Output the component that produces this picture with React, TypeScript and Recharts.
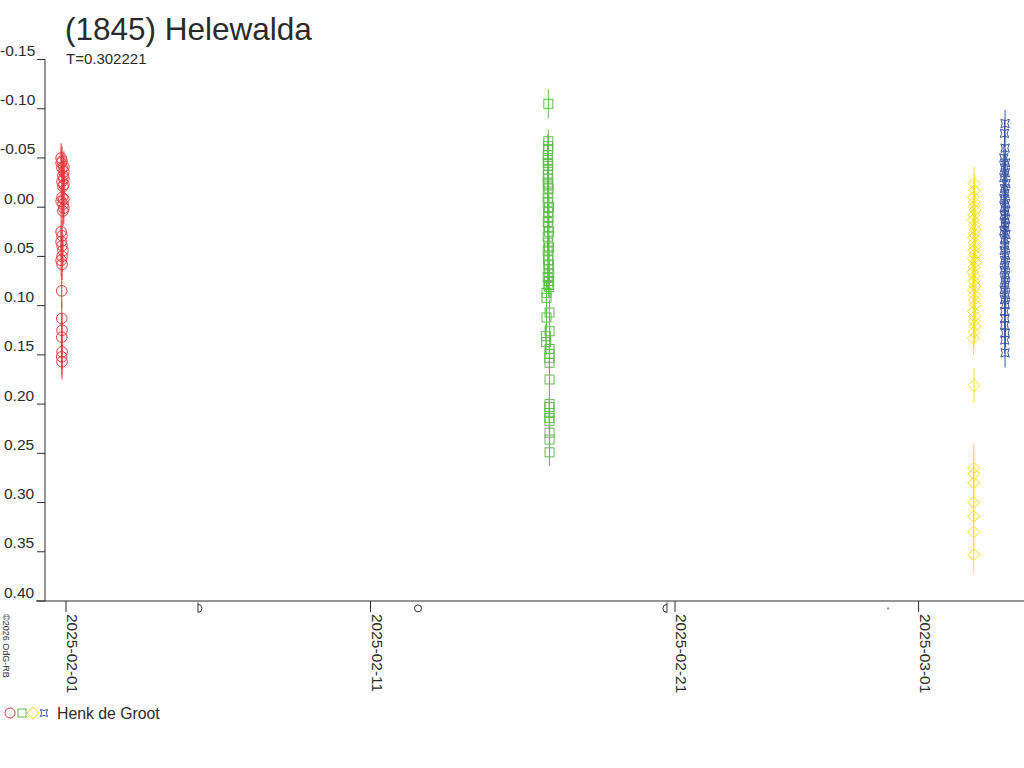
import React from "react";
import {
  ScatterChart,
  Scatter,
  XAxis,
  YAxis,
  ErrorBar,
  ReferenceLine,
  ReferenceDot,
} from "recharts";

// days since 2025-02-01 00:00 UT, relative magnitude, error
const redObs = [
  [-0.16, -0.05, 0.015], [-0.13, -0.047, 0.015], [-0.16, -0.045, 0.015],
  [-0.07, -0.041, 0.016], [-0.13, -0.04, 0.015], [-0.07, -0.036, 0.016],
  [-0.1, -0.032, 0.015], [-0.07, -0.029, 0.016], [-0.13, -0.026, 0.015],
  [-0.07, -0.023, 0.016], [-0.1, -0.021, 0.015], [-0.13, -0.01, 0.015],
  [-0.07, -0.008, 0.016], [-0.16, -0.006, 0.015], [-0.1, -0.003, 0.015],
  [-0.07, 0.001, 0.016], [-0.1, 0.004, 0.015], [-0.16, 0.025, 0.016],
  [-0.13, 0.029, 0.016], [-0.16, 0.035, 0.016], [-0.13, 0.039, 0.016],
  [-0.1, 0.044, 0.016], [-0.13, 0.05, 0.016], [-0.16, 0.054, 0.016],
  [-0.13, 0.058, 0.016], [-0.14, 0.085, 0.017], [-0.14, 0.113, 0.017],
  [-0.13, 0.125, 0.017], [-0.14, 0.132, 0.017], [-0.13, 0.147, 0.018],
  [-0.14, 0.152, 0.018], [-0.13, 0.157, 0.018],
];

const greenObs = [
  [15.84, -0.105, 0.015], [15.84, -0.067, 0.012], [15.83, -0.062, 0.012],
  [15.84, -0.059, 0.012], [15.82, -0.053, 0.012], [15.83, -0.048, 0.012],
  [15.82, -0.045, 0.012], [15.84, -0.042, 0.012], [15.83, -0.038, 0.012],
  [15.82, -0.033, 0.012], [15.84, -0.029, 0.012], [15.82, -0.025, 0.012],
  [15.83, -0.022, 0.012], [15.85, -0.019, 0.012], [15.82, -0.014, 0.012],
  [15.84, -0.009, 0.012], [15.82, -0.005, 0.012], [15.86, 0.0, 0.012],
  [15.83, 0.005, 0.012], [15.85, 0.01, 0.012], [15.82, 0.015, 0.012],
  [15.84, 0.02, 0.012], [15.86, 0.025, 0.012], [15.82, 0.03, 0.012],
  [15.84, 0.036, 0.012], [15.86, 0.041, 0.012], [15.82, 0.044, 0.012],
  [15.85, 0.049, 0.012], [15.83, 0.054, 0.012], [15.86, 0.059, 0.012],
  [15.84, 0.063, 0.012], [15.87, 0.067, 0.012], [15.82, 0.071, 0.012],
  [15.86, 0.075, 0.012], [15.84, 0.079, 0.012], [15.87, 0.081, 0.012],
  [15.78, 0.087, 0.012], [15.78, 0.092, 0.012], [15.88, 0.107, 0.013],
  [15.78, 0.112, 0.013], [15.88, 0.126, 0.013], [15.76, 0.131, 0.013],
  [15.77, 0.137, 0.013], [15.88, 0.144, 0.013], [15.88, 0.149, 0.013],
  [15.87, 0.153, 0.013], [15.88, 0.158, 0.013], [15.88, 0.175, 0.013],
  [15.88, 0.2, 0.014], [15.87, 0.203, 0.014], [15.88, 0.209, 0.014],
  [15.87, 0.214, 0.014], [15.88, 0.217, 0.014], [15.88, 0.229, 0.014],
  [15.88, 0.236, 0.014], [15.88, 0.249, 0.014],
];

const yellowObs = [
  [29.82, -0.024, 0.017], [29.84, -0.017, 0.017], [29.8, -0.01, 0.017],
  [29.83, -0.005, 0.017], [29.82, -0.001, 0.017], [29.85, 0.003, 0.017],
  [29.81, 0.008, 0.017], [29.79, 0.013, 0.017], [29.84, 0.018, 0.017],
  [29.86, 0.023, 0.017], [29.82, 0.027, 0.017], [29.8, 0.031, 0.017],
  [29.83, 0.036, 0.017], [29.85, 0.04, 0.017], [29.81, 0.044, 0.017],
  [29.84, 0.048, 0.017], [29.8, 0.052, 0.017], [29.86, 0.056, 0.017],
  [29.82, 0.061, 0.017], [29.78, 0.066, 0.017], [29.83, 0.07, 0.017],
  [29.81, 0.075, 0.017], [29.85, 0.08, 0.017], [29.8, 0.084, 0.017],
  [29.83, 0.089, 0.017], [29.82, 0.094, 0.017], [29.86, 0.099, 0.017],
  [29.8, 0.106, 0.017], [29.84, 0.111, 0.017], [29.82, 0.116, 0.017],
  [29.85, 0.121, 0.017], [29.82, 0.127, 0.017], [29.8, 0.133, 0.017],
  [29.82, 0.181, 0.018], [29.81, 0.265, 0.024], [29.81, 0.271, 0.024],
  [29.81, 0.28, 0.024], [29.81, 0.3, 0.02], [29.81, 0.314, 0.02],
  [29.81, 0.33, 0.02], [29.81, 0.353, 0.019],
];

const blueObs = [
  [30.84, -0.085, 0.014], [30.82, -0.075, 0.014], [30.84, -0.06, 0.014],
  [30.8, -0.05, 0.014], [30.86, -0.045, 0.014], [30.82, -0.04, 0.014],
  [30.85, -0.035, 0.014], [30.8, -0.03, 0.014], [30.87, -0.024, 0.014],
  [30.82, -0.019, 0.014], [30.84, -0.014, 0.014], [30.8, -0.009, 0.014],
  [30.86, -0.004, 0.014], [30.82, 0.0, 0.014], [30.85, 0.004, 0.014],
  [30.81, 0.008, 0.014], [30.86, 0.012, 0.014], [30.83, 0.016, 0.014],
  [30.85, 0.02, 0.014], [30.8, 0.024, 0.014], [30.87, 0.028, 0.014],
  [30.82, 0.033, 0.014], [30.84, 0.039, 0.014], [30.81, 0.044, 0.014],
  [30.86, 0.049, 0.014], [30.82, 0.054, 0.014], [30.85, 0.059, 0.014],
  [30.81, 0.064, 0.014], [30.86, 0.069, 0.014], [30.83, 0.074, 0.014],
  [30.85, 0.079, 0.014], [30.81, 0.084, 0.014], [30.86, 0.089, 0.014],
  [30.82, 0.094, 0.014], [30.85, 0.099, 0.014], [30.82, 0.106, 0.014],
  [30.84, 0.113, 0.014], [30.82, 0.12, 0.014], [30.85, 0.128, 0.014],
  [30.83, 0.135, 0.014], [30.84, 0.148, 0.015],
];

const magTicks = [-0.15, -0.1, -0.05, 0, 0.05, 0.1, 0.15, 0.2, 0.25, 0.3, 0.35, 0.4];
const dateTicks = [0, 10, 20, 28];
// moon phases: first quarter, full, last quarter, new
const moonDays = [4.4, 11.56, 19.67, 27.0];
const moonKinds = ["fq", "full", "lq", "new"];

const RED = "#e8383d";
const GREEN = "#62bb4e";
const YELLOW = "#f5e41b";
const BLUE = "#3b55a3";
const INK = "#2a2a2a";
const FONT = "'Liberation Sans', Arial, sans-serif";

const toPoints = (rows: number[][]) => rows.map(([x, y, e]) => ({ x, y, e }));

const circleShape = (p: any) => (
  <circle cx={p.cx} cy={p.cy} r={5.3} fill="none" stroke={RED} strokeWidth={1} />
);
const squareShape = (p: any) => (
  <rect x={p.cx - 4.5} y={p.cy - 4.5} width={9} height={9} fill="none" stroke={GREEN} strokeWidth={1} />
);
const diamondShape = (p: any) => (
  <path
    d={`M${p.cx},${p.cy - 6}L${p.cx + 6},${p.cy}L${p.cx},${p.cy + 6}L${p.cx - 6},${p.cy}Z`}
    fill="none"
    stroke={YELLOW}
    strokeWidth={1}
  />
);
const starPath = (cx: number, cy: number, s: number) =>
  `M${cx - s},${cy - s}Q${cx},${cy - s * 0.3} ${cx + s},${cy - s}Q${cx + s * 0.3},${cy} ${cx + s},${cy + s}` +
  `Q${cx},${cy + s * 0.3} ${cx - s},${cy + s}Q${cx - s * 0.3},${cy} ${cx - s},${cy - s}Z`;
const starShape = (p: any) => (
  <path d={starPath(p.cx, p.cy, 4.2)} fill="none" stroke={BLUE} strokeWidth={1} />
);

const fmtDate = (d: number) =>
  new Date(Date.UTC(2025, 1, 1) + d * 86400000).toISOString().slice(0, 10);

const YTick = (props: any) => {
  const { y, payload } = props;
  const v = payload.value as number;
  return (
    <g>
      <text x={v < 0 ? 0 : 4} y={y - 3.5} fontSize={15.5} fill={INK} fontFamily={FONT}>
        {v.toFixed(2)}
      </text>
      <line x1={37} x2={45} y1={y} y2={y} stroke={INK} />
    </g>
  );
};

const XTick = (props: any) => {
  const { x, payload } = props;
  const tx = x + 1;
  const ty = 614;
  return (
    <text
      x={tx}
      y={ty}
      transform={`rotate(90 ${tx} ${ty})`}
      fontSize={15.5}
      fill={INK}
      fontFamily={FONT}
    >
      {fmtDate(payload.value)}
    </text>
  );
};

const moonShape = (kind: string) => (p: any) => {
  const cx = p.cx;
  const cy = p.cy;
  if (kind === "full") return <circle cx={cx} cy={cy} r={3.5} fill="none" stroke="#333" />;
  if (kind === "new") return <circle cx={cx} cy={cy} r={1.2} fill="#999" />;
  const dir = kind === "fq" ? 1 : -1;
  const lx = cx - dir * 2;
  return (
    <path
      d={`M${lx},${cy - 6}L${lx},${cy + 4}M${lx},${cy - 4}A4 4 0 0 ${dir > 0 ? 1 : 0} ${lx},${cy + 4}`}
      fill="none"
      stroke="#333"
    />
  );
};

export default function App() {
  const yAxisX = (45 - 66) / 30.45;
  const xMin = (36 - 66) / 30.45;
  const xMax = (1024 - 66) / 30.45;
  return (
    <div style={{ position: "absolute", left: 0, top: 0, width: 1024, height: 768, background: "#fff" }}>
      <ScatterChart width={1024} height={768} margin={{ top: 59.5, right: 0, bottom: 0, left: 0 }}>
        <XAxis
          type="number"
          dataKey="x"
          domain={[xMin, xMax]}
          allowDataOverflow
          ticks={dateTicks}
          tick={<XTick />}
          tickSize={11}
          height={167}
          stroke={INK}
          tickLine={{ stroke: INK }}
        />
        <YAxis
          type="number"
          dataKey="y"
          domain={[-0.15, 0.4]}
          allowDataOverflow
          reversed
          ticks={magTicks}
          tick={<YTick />}
          axisLine={false}
          tickLine={false}
          width={36}
        />
        <ReferenceLine
          segment={[{ x: yAxisX, y: -0.15 }, { x: yAxisX, y: 0.4 }]}
          stroke={INK}
          ifOverflow="visible"
        />
        <Scatter data={toPoints(redObs)} shape={circleShape} isAnimationActive={false}>
          <ErrorBar dataKey="e" direction="y" width={0} stroke={RED} strokeWidth={1} isAnimationActive={false} />
        </Scatter>
        <Scatter data={toPoints(greenObs)} shape={squareShape} isAnimationActive={false}>
          <ErrorBar dataKey="e" direction="y" width={0} stroke={GREEN} strokeWidth={1} isAnimationActive={false} />
        </Scatter>
        <Scatter data={toPoints(yellowObs)} shape={diamondShape} isAnimationActive={false}>
          <ErrorBar dataKey="e" direction="y" width={0} stroke={YELLOW} strokeWidth={1} isAnimationActive={false} />
        </Scatter>
        <Scatter data={toPoints(blueObs)} shape={starShape} isAnimationActive={false}>
          <ErrorBar dataKey="e" direction="y" width={0} stroke={BLUE} strokeWidth={1} isAnimationActive={false} />
        </Scatter>
        {moonDays.map((d, i) => (
          <ReferenceDot
            key={i}
            x={d}
            y={0.4075}
            ifOverflow="visible"
            shape={moonShape(moonKinds[i])}
          />
        ))}
      </ScatterChart>
      <svg
        width={1024}
        height={768}
        style={{ position: "absolute", left: 0, top: 0, pointerEvents: "none" }}
      >
        <text x={65} y={40} fontSize={31.5} fill={INK} fontFamily={FONT}>
          (1845) Helewalda
        </text>
        <text x={66} y={64} fontSize={15} fill={INK} fontFamily={FONT}>
          T=0.302221
        </text>
        <text
          x={3}
          y={614}
          transform="rotate(90 3 614)"
          fontSize={9}
          fill={INK}
          fontFamily={FONT}
        >
          ©2026 OdG-RB
        </text>
        <circle cx={10} cy={713} r={5} fill="none" stroke={RED} />
        <rect x={18} y={709} width={8} height={8} fill="none" stroke={GREEN} />
        <path d="M33,707L39,713L33,719L27,713Z" fill="none" stroke={YELLOW} />
        <path d={starPath(44, 713, 3.6)} fill="none" stroke={BLUE} />
        <text x={57} y={719} fontSize={15.8} fill={INK} fontFamily={FONT}>
          Henk de Groot
        </text>
      </svg>
    </div>
  );
}
